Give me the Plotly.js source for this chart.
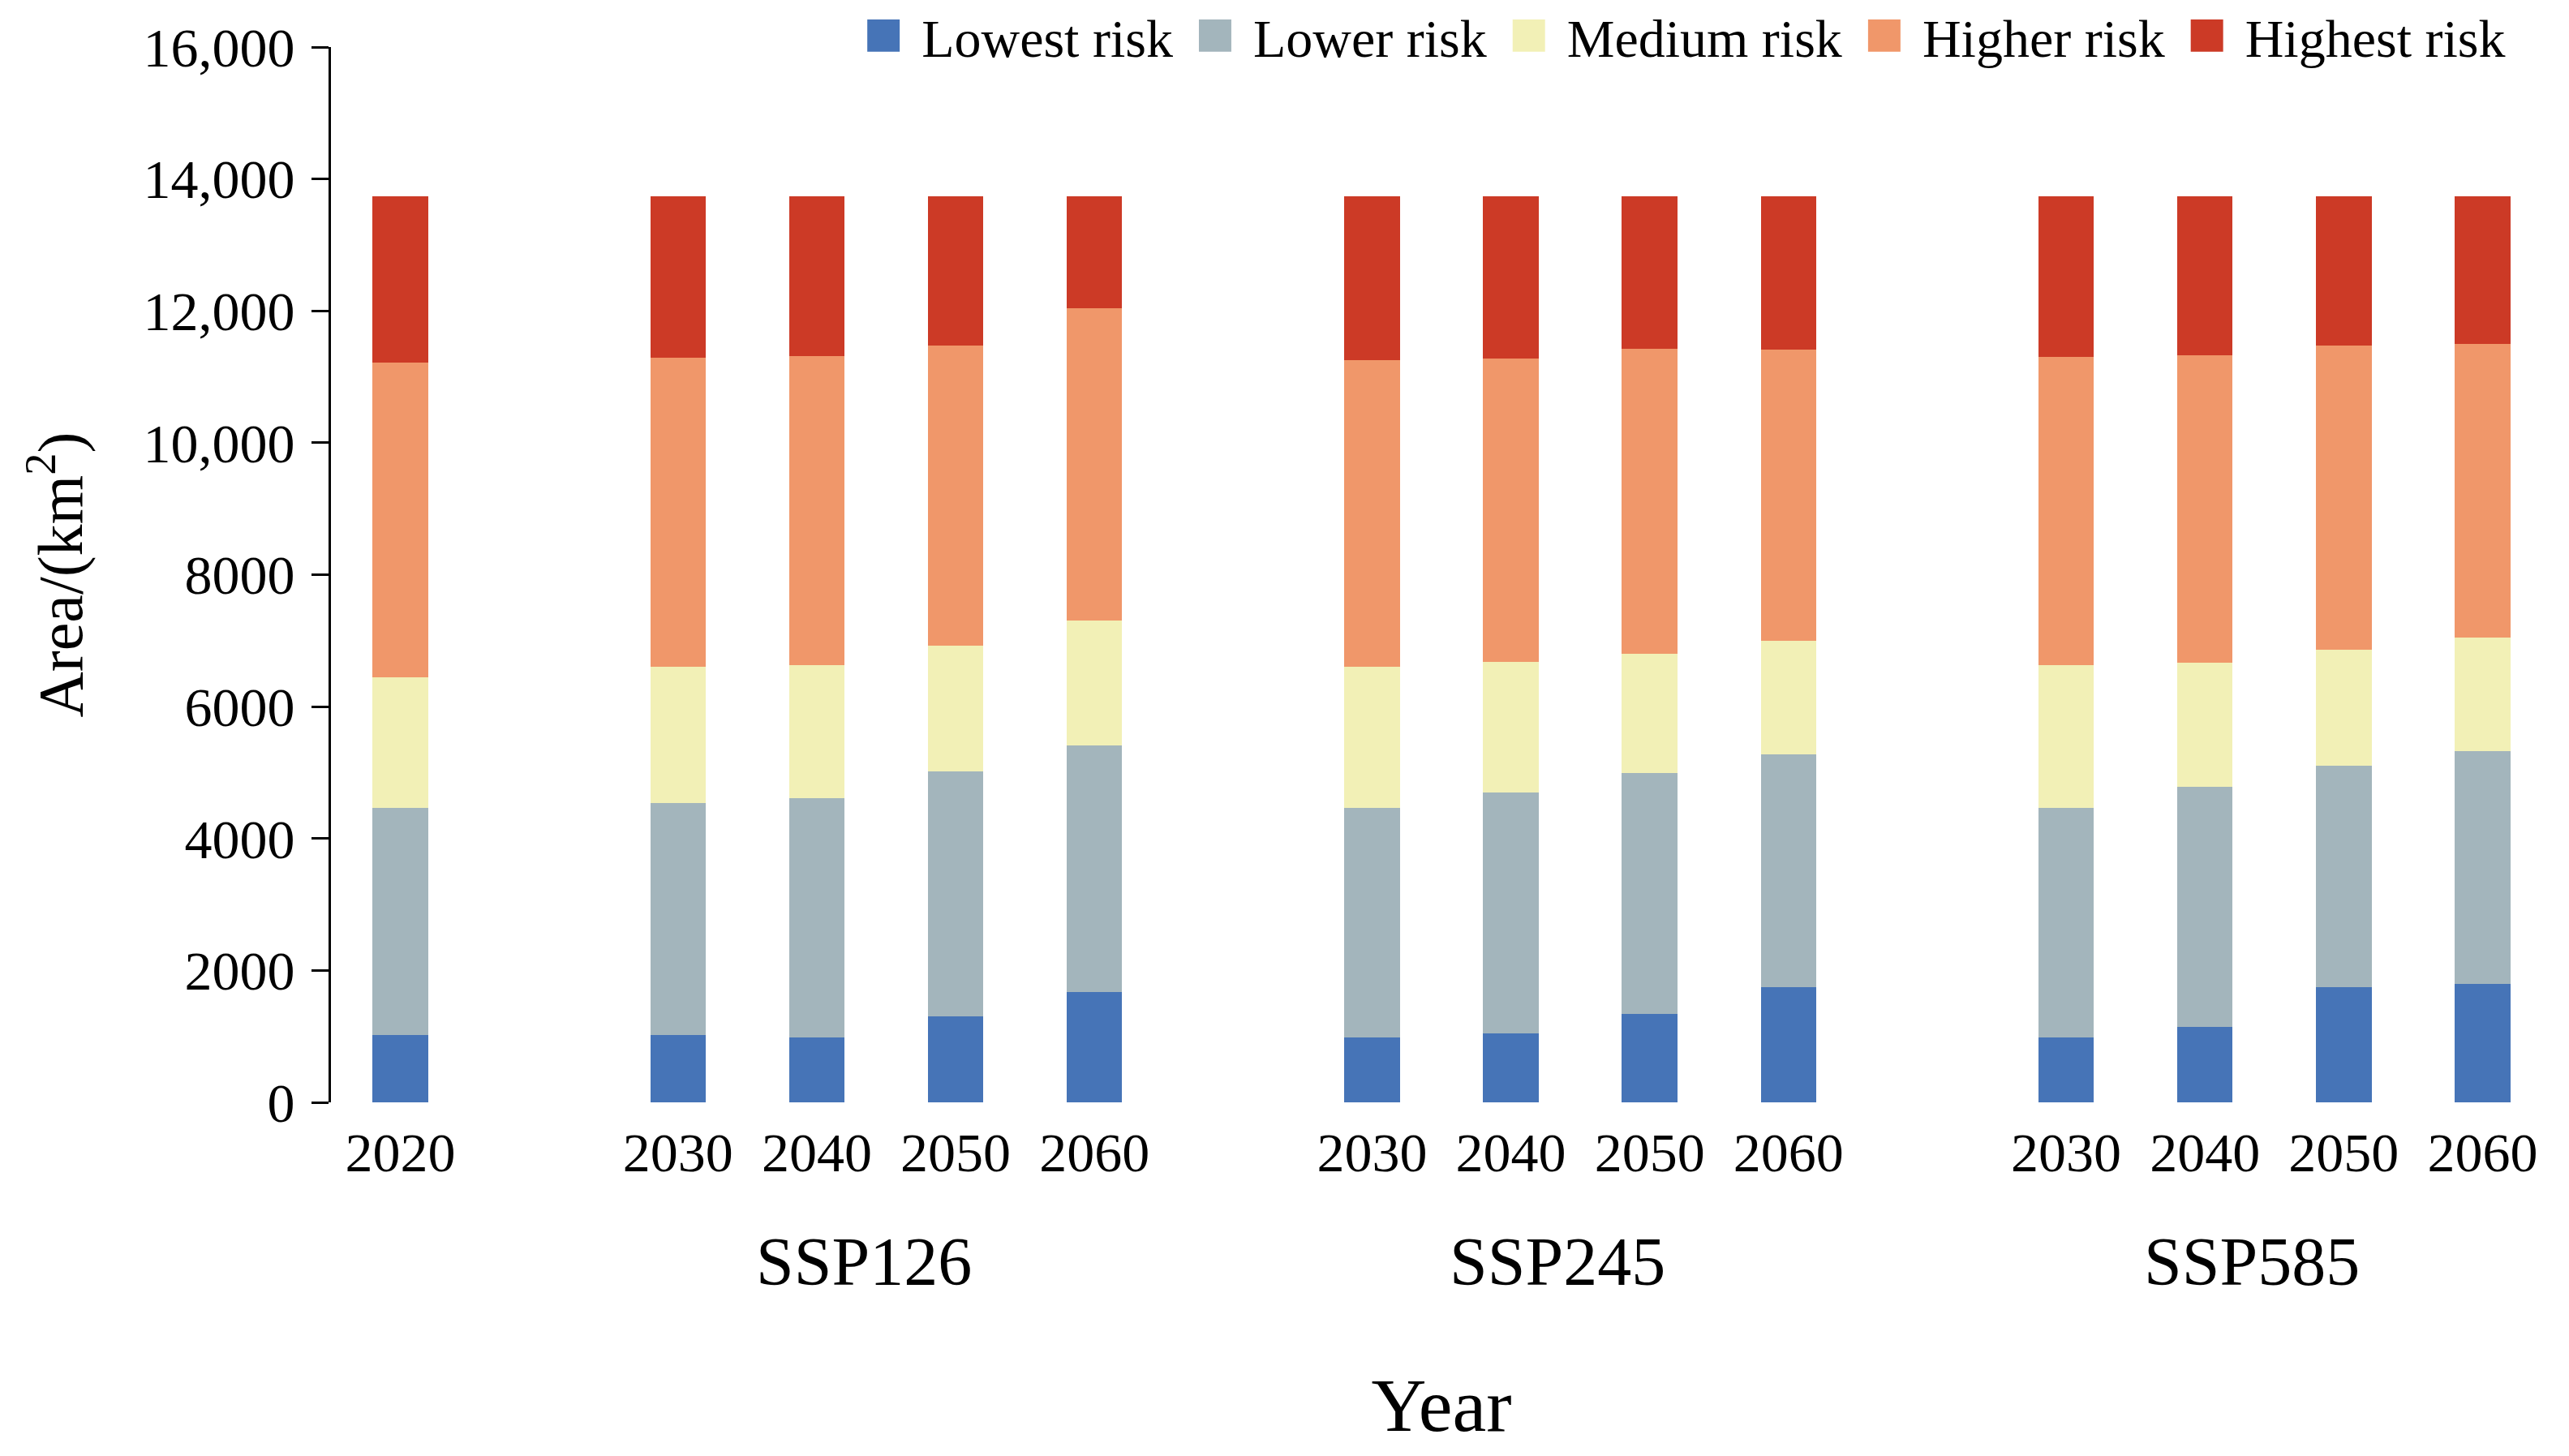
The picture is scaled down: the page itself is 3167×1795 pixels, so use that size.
<!DOCTYPE html>
<html><head><meta charset="utf-8">
<script src="https://cdn.plot.ly/plotly-3.0.1.min.js"></script>
<style>html,body{margin:0;padding:0;background:#fff}#chart{width:3167px;height:1795px}</style>
</head><body><div id="chart"></div>
<script>
// ---- data ----
const baseYear = '2020';
const scenarios = ['SSP126', 'SSP245', 'SSP585'];
const futureYears = ['2030', '2040', '2050', '2060'];
const riskLevels = ['Lowest risk', 'Lower risk', 'Medium risk', 'Higher risk', 'Highest risk'];
// bar order: 2020, SSP126 2030-2060, SSP245 2030-2060, SSP585 2030-2060 (km²)
const lowestRisk  = [1020, 1020,  990, 1300, 1670,  990, 1050, 1340, 1750,  990, 1140, 1750, 1790];
const lowerRisk   = [3450, 3520, 3620, 3720, 3740, 3480, 3650, 3650, 3520, 3480, 3650, 3350, 3540];
const mediumRisk  = [1980, 2060, 2020, 1900, 1900, 2140, 1980, 1810, 1730, 2160, 1870, 1760, 1720];
const higherRisk  = [4770, 4690, 4680, 4560, 4730, 4640, 4600, 4620, 4410, 4670, 4670, 4620, 4450];
const highestRisk = [2520, 2450, 2430, 2260, 1700, 2490, 2460, 2320, 2330, 2440, 2410, 2260, 2240];
const yTickValues = [0, 2000, 4000, 6000, 8000, 10000, 12000, 14000, 16000];
const yTickLabels = ['0', '2000', '4000', '6000', '8000', '10,000', '12,000', '14,000', '16,000'];

// ---- styles ----
const colors = ['#4674B7', '#A3B5BC', '#F2F0B6', '#F0976A', '#CC3A26'];
const FONT = '"Liberation Serif", "Times New Roman", Times, serif';

// ---- category slots (one blank slot before each scenario group) ----
const xPos = [0];
const xLabels = [baseYear];
const groupCenters = [];
let slot = 0;
scenarios.forEach(function () {
  slot += 2;
  const start = slot;
  futureYears.forEach(function (y, j) {
    xPos.push(start + j);
    xLabels.push(y);
  });
  slot = start + futureYears.length - 1;
  groupCenters.push((start + slot) / 2);
});
const nSlots = slot + 1;
const boundaryTicks = [];
for (let b = -0.5; b <= nSlots - 0.5; b += 2) boundaryTicks.push(b);

const series = [lowestRisk, lowerRisk, mediumRisk, higherRisk, highestRisk];
const traces = series.map(function (vals, i) {
  return {
    type: 'bar', name: riskLevels[i], x: xPos, y: vals, width: 0.4,
    marker: { color: colors[i], line: { width: 0 } },
    xaxis: 'x', yaxis: 'y'
  };
});

const annotations = scenarios.map(function (s, i) {
  return {
    text: s, x: groupCenters[i], xref: 'x', y: -0.1507, yref: 'paper',
    xanchor: 'center', yanchor: 'middle', xshift: -28, showarrow: false,
    font: { family: FONT, size: 84, color: '#000' }
  };
});

const layout = {
  width: 3167, height: 1795,
  margin: { l: 408, r: 21, t: 58, b: 436, autoexpand: false },
  paper_bgcolor: '#fff', plot_bgcolor: '#fff',
  barmode: 'stack', showlegend: true,
  font: { family: FONT, color: '#000' },
  xaxis: {
    type: 'linear', range: [-0.5, nSlots - 0.5], fixedrange: true,
    tickmode: 'array', tickvals: xPos, ticktext: xLabels,
    ticks: '', showline: false, showgrid: false, zeroline: false,
    tickfont: { family: FONT, size: 68, color: '#000' },
    ticklabelstandoff: 16,
    title: { text: 'Year', font: { family: FONT, size: 94, color: '#000' }, standoff: 240 }
  },
  xaxis2: {
    type: 'linear', overlaying: 'x', anchor: 'y', side: 'bottom',
    range: [-0.5, nSlots - 0.5], fixedrange: true,
    tickmode: 'array', tickvals: boundaryTicks, showticklabels: false,
    ticks: 'outside', ticklen: 22, tickwidth: 3, tickcolor: '#000',
    showline: true, linewidth: 3, linecolor: '#000',
    showgrid: false, zeroline: false
  },
  yaxis: {
    range: [0, 16000], fixedrange: true,
    tickmode: 'array', tickvals: yTickValues, ticktext: yTickLabels,
    ticks: 'outside', ticklen: 21, tickwidth: 3, tickcolor: '#000',
    showline: true, linewidth: 3, linecolor: '#000',
    showgrid: false, zeroline: false,
    tickfont: { family: FONT, size: 68, color: '#000' },
    ticklabelstandoff: 7,
    title: { text: 'Area/(km<sup>2</sup>)', font: { family: FONT, size: 78, color: '#000' }, standoff: 50 }
  },
  legend: {
    orientation: 'h', xref: 'container', yref: 'container',
    x: 0.977, xanchor: 'right', y: 0.9755, yanchor: 'middle',
    font: { family: FONT, size: 66, color: '#000' },
    itemwidth: 84, bgcolor: 'rgba(0,0,0,0)', traceorder: 'normal'
  },
  annotations: annotations
};

function enlargeLegendSymbols(gd) {
  gd.querySelectorAll('.legend .legendpoints path').forEach(function (p) {
    if (p.getAttribute('data-big')) return;
    const t = p.getAttribute('transform') || '';
    p.setAttribute('transform', t + ' scale(3.33)');
    p.setAttribute('data-big', '1');
  });
}

const gdEl = document.getElementById('chart');
Plotly.newPlot(gdEl, traces, layout, { displayModeBar: false, staticPlot: true }).then(function (gd) {
  enlargeLegendSymbols(gd);
  gd.on('plotly_afterplot', function () { enlargeLegendSymbols(gd); });
  setTimeout(function () { enlargeLegendSymbols(gd); }, 50);
});
</script>
</body></html>
